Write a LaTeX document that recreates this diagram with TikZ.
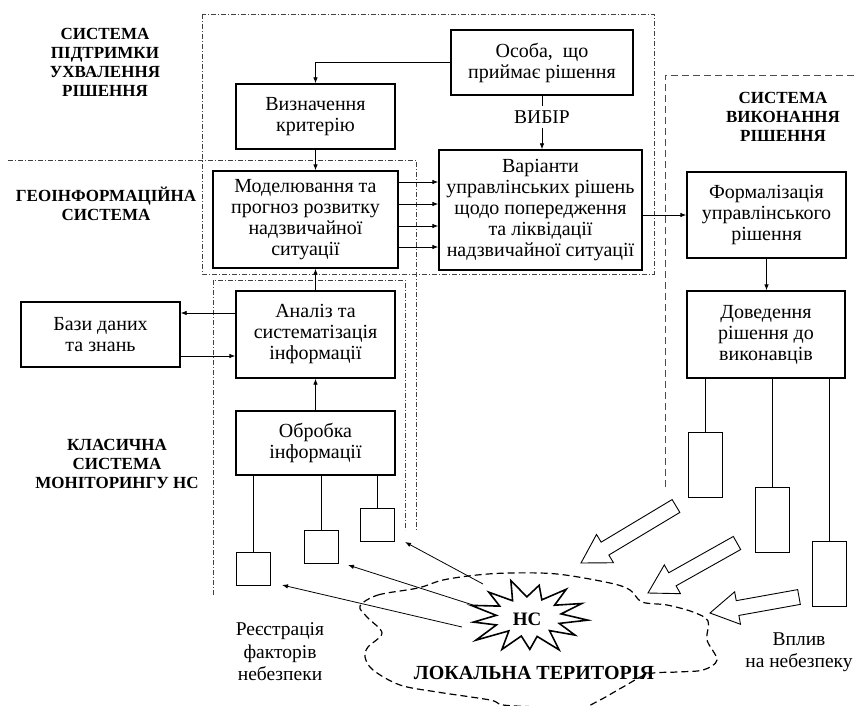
\documentclass[tikz,border=0pt]{standalone}
\usepackage{fontspec}
\setmainfont{Liberation Serif}
\usetikzlibrary{arrows.meta,calc}

\newcommand\boxfont{\fontsize{20}{21}\selectfont}
\newcommand\capfont{\bfseries\fontsize{17}{19}\selectfont}
\newcommand\notefont{\fontsize{19.5}{22.5}\selectfont}

\tikzset{
  box/.style={draw, line width=1.3pt, align=center, inner sep=2pt, font=\boxfont},
  sensor/.style={draw, line width=0.9pt, minimum width=34pt, minimum height=33pt, inner sep=0pt},
  actor/.style={draw, line width=0.9pt, minimum width=34pt, minimum height=65pt, inner sep=0pt},
  link/.style={line width=0.8pt},
  arr/.style={link, -{Latex[length=6pt,width=4.5pt]}},
  region/.style={line width=0.6pt, dash pattern=on 5pt off 2pt on 1pt off 2pt, black!75},
  execregion/.style={line width=0.8pt, dash pattern=on 7pt off 4pt, black!70},
  regioncap/.style={font=\capfont, align=center},
  note/.style={font=\notefont, align=center},
  hollow/.style={line width=0.9pt, line join=miter, fill=white},
}

% block arrow from tail centre #1 to tip #2
\newcommand\hollowarrow[2]{%
  \coordinate (ha-b) at ($(#2)!28pt!(#1)$);
  \draw[hollow]
    ($(#1)!7.5pt!90:(#2)$) -- ($(ha-b)!7.5pt!-90:(#1)$) -- ($(ha-b)!16.5pt!-90:(#1)$) -- (#2)
    -- ($(ha-b)!16.5pt!90:(#1)$) -- ($(ha-b)!7.5pt!90:(#1)$) -- ($(#1)!7.5pt!-90:(#2)$) -- cycle;
}

\begin{document}
\begin{tikzpicture}[x=1pt,y=-1pt]
\useasboundingbox (0,0) rectangle (854,706);

% subsystem borders
\draw[region] (202,14) rectangle (654,274);
\draw[region] (8,160) -- (416,160) -- (416,530);
\draw[region] (213,595) -- (213,280) -- (405,280) -- (405,530);
\draw[execregion] (665,487) -- (665,75) -- (854,75);

% subsystem titles
\node[regioncap] (tdss) at (105,62) {СИСТЕМА\\ПІДТРИМКИ\\УХВАЛЕННЯ\\РІШЕННЯ};
\node[regioncap] (tgis) at (106,204) {ГЕОІНФОРМАЦІЙНА\\СИСТЕМА};
\node[regioncap] (tmon) at (117,464) {КЛАСИЧНА\\СИСТЕМА\\МОНІТОРИНГУ НС};
\node[regioncap] (texe) at (783,117) {СИСТЕМА\\ВИКОНАННЯ\\РІШЕННЯ};

% process blocks
\node[box, minimum width=182pt, minimum height=65pt] (osoba) at (542,62.5) {Особа,\ \ що\\приймає рішення};
\node[box, minimum width=159pt, minimum height=65pt] (vyzn) at (315.5,116.5) {Визначення\\критерію};
\node[box, minimum width=185pt, minimum height=97pt] (model) at (305.5,219.5) {Моделювання та\\прогноз розвитку\\надзвичайної\\ситуації};
\node[box, minimum width=203pt, minimum height=120pt] (variant) at (540.5,210) {Варіанти\\управлінських рішень\\щодо попередження\\та ліквідації\\надзвичайної ситуації};
\node[box, minimum width=159pt, minimum height=86pt] (formal) at (766.5,215) {Формалізація\\управлінського\\рішення};
\node[box, minimum width=158pt, minimum height=87pt] (dov) at (766,334.5) {Доведення\\рішення до\\виконавців};
\node[box, minimum width=159pt, minimum height=87pt] (analiz) at (315.5,334.5) {Аналіз та\\систематізація\\інформації};
\node[box, minimum width=159pt, minimum height=65pt] (bazy) at (100.5,334.5) {Бази даних\\та знань};
\node[box, minimum width=159pt, minimum height=64pt] (obr) at (315.5,443) {Обробка\\інформації};

% sensors and executors
\node[sensor] (s1) at (253,568.5) {};
\node[sensor] (s2) at (321,546.5) {};
\node[sensor] (s3) at (377,524.5) {};
\node[actor] (e1) at (705,464.5) {};
\node[actor] (e2) at (772,519.5) {};
\node[actor] (e3) at (829,574) {};

% decision flow
\draw[arr] (osoba.west) -- (osoba.west -| vyzn.north) -- (vyzn.north);
\draw[arr] (vyzn.south) -- (vyzn.south |- model.north);
\foreach \yy in {182,204,226,247} {
  \coordinate (row) at (0,\yy);
  \draw[arr] (model.east |- row) -- (variant.west |- row);
}
\node[note, inner sep=4pt] (vybir) at (542,117) {ВИБІР};
\draw[link] (osoba.south) -- (osoba.south |- vybir.north);
\draw[arr] (vybir.south -| osoba.south) -- (osoba.south |- variant.north);
\draw[arr] (formal.west -| variant.east) -- (formal.west);
\draw[arr] (formal.south) -- (formal.south |- dov.north);
\foreach \e in {e1,e2,e3}
  \draw[link] (dov.south -| \e.north) -- (\e.north);

% monitoring flow
\draw[arr] (analiz.north) -- (analiz.north |- model.south);
\draw[arr] (obr.north) -- (obr.north |- analiz.south);
\coordinate (rowa) at (0,313);
\coordinate (rowb) at (0,356);
\draw[arr] (analiz.west |- rowa) -- (bazy.east |- rowa);
\draw[arr] (bazy.east |- rowb) -- (analiz.west |- rowb);
\foreach \s in {s1,s2,s3}
  \draw[link] (obr.south -| \s.north) -- (\s.north);

% local territory
\draw[line width=1.2pt, dash pattern=on 7pt off 4pt] plot[smooth cycle, tension=0.55] coordinates {
  (360,606) (378,595) (418,588) (443,580) (477,575) (510,573) (557,574) (610,583)
  (630,590) (642,602) (667,605) (693,612) (708,621) (707,640) (717,660) (703,670)
  (677,672) (648,674) (623,687) (600,700) (580,708) (540,707) (503,705) (490,700)
  (437,692) (400,685) (373,670) (365,657) (368,647) (382,633) (367,617)};

% emergency star
\def\spikes{{1.0,0.55,0.93,0.52,1.05,0.56,0.9,0.54,1.0,0.5,1.08,0.57,0.92,0.53,1.0,0.56,0.95,0.52,1.05,0.56,0.9,0.53,1.0,0.55,0.97,0.56}}
\draw[line width=1.6pt, line join=miter, fill=white] plot[variable=\k, samples at={0,...,25}]
  ({528+60*\spikes[\k]*cos(\k*360/26+5)}, {617+36*\spikes[\k]*sin(\k*360/26+5)}) -- cycle;
\node[font=\bfseries\fontsize{19}{20}\selectfont] (nc) at (527,619) {НС};

% factor registration
\coordinate (ncA) at (483,584);
\coordinate (ncB) at (473,605);
\coordinate (ncC) at (462,627);
\coordinate (rA) at (405,542);
\coordinate (rB) at (348,565);
\coordinate (rC) at (282,585);
\draw[arr] (ncA) -- (rA);
\draw[arr] (ncB) -- (rB);
\draw[arr] (ncC) -- (rC);

% impact on the hazard
\coordinate (ta1) at (676,506); \coordinate (tp1) at (581,563);
\coordinate (ta2) at (737,543); \coordinate (tp2) at (648,593);
\coordinate (ta3) at (799,597); \coordinate (tp3) at (710,613);
\hollowarrow{ta1}{tp1}
\hollowarrow{ta2}{tp2}
\hollowarrow{ta3}{tp3}

% captions
\node[note] (reg) at (280,652) {Реєстрація\\факторів\\небезпеки};
\node[note] (vpl) at (799,652) {Вплив\\на небезпеку};
\node[font=\bfseries\fontsize{20}{22}\selectfont] (lt) at (534,673) {ЛОКАЛЬНА ТЕРИТОРІЯ};
\end{tikzpicture}
\end{document}
